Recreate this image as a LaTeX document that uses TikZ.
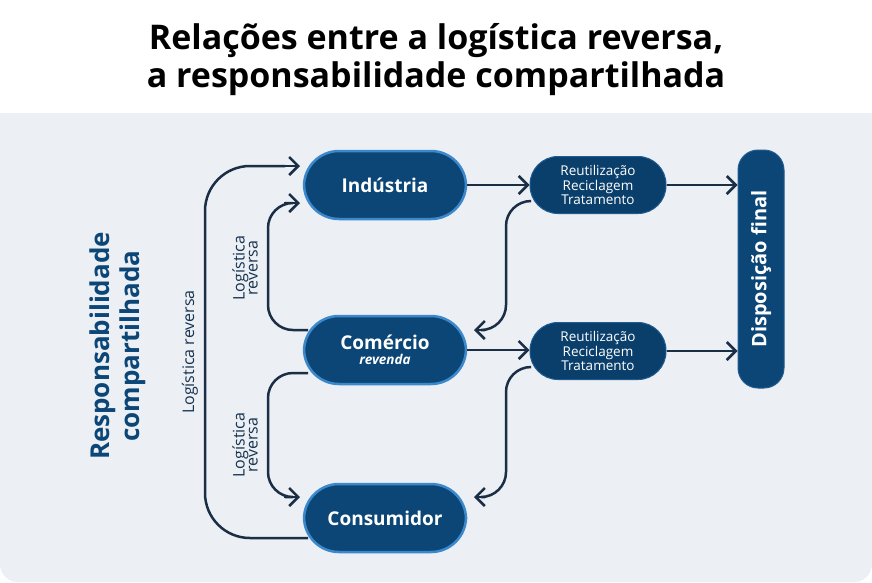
\documentclass[tikz,border=0pt]{standalone}
\usepackage{fontspec}
\setmainfont{Open Sans}
\usetikzlibrary{arrows.meta}
\definecolor{panel}{HTML}{ECEFF4}
\definecolor{nodefill}{HTML}{0B4677}
\definecolor{nodeedge}{HTML}{3B88CC}
\definecolor{small}{HTML}{0B3F6B}
\definecolor{arr}{HTML}{1A2E45}
\begin{document}
\begin{tikzpicture}[x=1pt,y=-1pt,
  big/.style={draw=nodeedge,line width=2.5pt,fill=nodefill,rounded corners=35pt,minimum width=162pt,minimum height=68pt,text=white,font=\bfseries\fontsize{19}{20}\selectfont,align=center},
  sm/.style={draw=nodeedge!40!small,line width=1pt,fill=small,rounded corners=28pt,minimum width=136pt,minimum height=57pt,text=white,font=\fontsize{13.5}{14.5}\selectfont,align=center},
  ar/.style={draw=arr,line width=2.5pt,-{Straight Barb[length=9pt,width=18pt,line width=2.5pt]}},
  ln/.style={draw=arr,line width=2.5pt,rounded corners=25pt},
  lab/.style={text=arr!80!nodefill,font=\fontsize{16}{16}\selectfont,align=center,rotate=90}]
\useasboundingbox (0,0) rectangle (872,582);
\fill[white] (0,0) rectangle (872,582);
\fill[panel,rounded corners=18pt] (0,113) rectangle (872,582);
\fill[panel] (0,113) rectangle (872,140);
\node[font=\bfseries\fontsize{34}{38}\selectfont,align=center] (title) at (436,60) {Relações entre a logística reversa,\\ a responsabilidade compartilhada};
\node[big] (ind) at (385,185) {Indústria};
\node[big] (com) at (385,350) {Comércio\\[-5pt]{\fontsize{13.5}{14}\selectfont\itshape revenda}};
\node[big] (con) at (385,518) {Consumidor};
\node[sm] (r1) at (598,185) {Reutilização\\Reciclagem\\Tratamento};
\node[sm] (r2) at (598,351) {Reutilização\\Reciclagem\\Tratamento};
\node[draw=nodeedge!40!small,line width=1pt,fill=nodefill,rounded corners=20pt,minimum width=46pt,minimum height=238pt] (df) at (761,269) {};
\node[rotate=90,text=white,font=\bfseries\fontsize{20}{22}\selectfont] (dft) at (761,269) {Disposição final};
\draw[ar] (ind.east) -- (r1.west);
\draw[ar] (com.east) -- (r2.west |- com.east);
\draw[ar] (r1.east) -- (df.west |- r1.east);
\draw[ar] (r2.east) -- (df.west |- r2.east);
\coordinate (a1) at (530,201); \coordinate (a1e) at (474,330);
\draw[ln] (a1) -- (506,201) -- (506,330) -- (485,330);
\draw[ar] (486,330) -- (a1e);
\coordinate (a2) at (530,367); \coordinate (a2e) at (474,497);
\draw[ln] (a2) -- (506,367) -- (506,497) -- (485,497);
\draw[ar] (486,497) -- (a2e);
\coordinate (b1) at (308,330); \coordinate (b1e) at (300,203);
\draw[ln] (b1) -- (268,330) -- (268,203) -- (285,203);
\draw[ar] (284,203) -- (b1e);
\coordinate (b2) at (308,373); \coordinate (b2e) at (300,497);
\draw[ln] (b2) -- (268,373) -- (268,497) -- (285,497);
\draw[ar] (284,497) -- (b2e);
\coordinate (c1) at (308,538); \coordinate (c1e) at (300,166);
\draw[ln,rounded corners=45pt] (c1) -- (205,538) -- (205,166) -- (285,166);
\draw[ar] (284,166) -- (c1e);
\node[lab] (l1) at (190,352) {Logística reversa};
\node[lab] (l2) at (245,268) {Logística\\[-3pt]reversa};
\node[lab] (l3) at (245,445) {Logística\\[-3pt]reversa};
\node[rotate=90,text=nodefill,font=\bfseries\fontsize{26}{30}\selectfont,align=center] (rc) at (118,346) {Responsabilidade\\compartilhada};
\end{tikzpicture}
\end{document}
